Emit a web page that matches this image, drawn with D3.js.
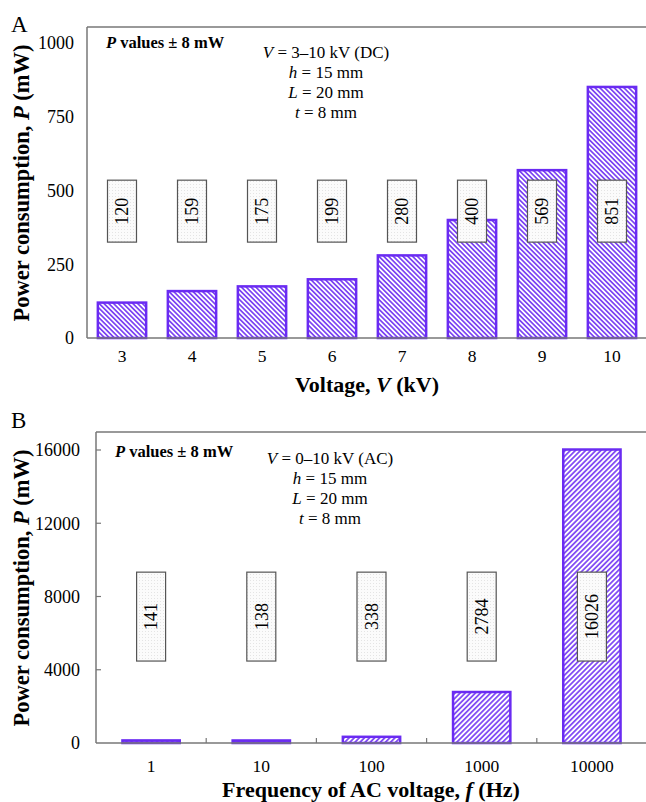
<html>
<head>
<script src="https://d3js.org/d3.v7.min.js"></script>
<style>
  body { margin: 0; background: #fff; }
  svg text { font-family: "Liberation Serif", "Times New Roman", serif; }
</style>
</head>
<body>
<div id="chart"></div>
<script>
// panel A: DC voltage
const voltageKV = ["3", "4", "5", "6", "7", "8", "9", "10"];
const powerDC = [120, 159, 175, 199, 280, 400, 569, 851];
const ticksDC = [0, 250, 500, 750, 1000];

// panel B: AC frequency
const frequencyHz = ["1", "10", "100", "1000", "10000"];
const powerAC = [141, 138, 338, 2784, 16026];
const ticksAC = [0, 4000, 8000, 12000, 16000];

const barColor = "#6a2bf2";

const svg = d3.select("#chart").append("svg")
  .attr("width", 646).attr("height", 802)
  .attr("font-family", "Liberation Serif, Times New Roman, serif");

const defs = svg.append("defs");

function hatch(id, angle, size) {
  const p = defs.append("pattern")
    .attr("id", id)
    .attr("patternUnits", "userSpaceOnUse")
    .attr("width", size).attr("height", size)
    .attr("patternTransform", "rotate(" + angle + ")");
  p.append("rect").attr("width", size).attr("height", size).attr("fill", "#fff");
  p.append("line")
    .attr("x1", size / 2).attr("y1", 0).attr("x2", size / 2).attr("y2", size)
    .attr("stroke", barColor).attr("stroke-width", 1.5);
}
hatch("hatchA", -45, 3.4);
hatch("hatchB", 45, 3.6);

// dotted fill for the value boxes
const dots = defs.append("pattern")
  .attr("id", "dots").attr("patternUnits", "userSpaceOnUse")
  .attr("width", 3).attr("height", 3);
dots.append("rect").attr("width", 3).attr("height", 3).attr("fill", "#fbfbfb");
dots.append("rect").attr("x", 1).attr("y", 1).attr("width", 1).attr("height", 1).attr("fill", "#e4e4e4");

function drawPanel(o) {
  const g = svg.append("g");

  const x = d3.scaleBand()
    .domain(o.cats)
    .range([o.left, 647])
    .paddingInner(o.pad).paddingOuter(o.pad / 2);

  const y = d3.scaleLinear()
    .domain([0, o.ticks[o.ticks.length - 1]])
    .range([o.bottom, o.top]);

  // frame: top and left lines
  g.append("line")
    .attr("x1", o.left).attr("x2", 646)
    .attr("y1", o.frameTop).attr("y2", o.frameTop)
    .attr("stroke", "#777").attr("stroke-width", 1.5);
  g.append("line")
    .attr("x1", o.left).attr("x2", o.left)
    .attr("y1", o.frameTop).attr("y2", o.bottom)
    .attr("stroke", "#777").attr("stroke-width", 1.5);

  // bars
  g.selectAll("rect.bar")
    .data(o.values)
    .enter().append("rect")
    .attr("class", "bar")
    .attr("x", (d, i) => x(o.cats[i]))
    .attr("y", d => y(d))
    .attr("width", x.bandwidth())
    .attr("height", d => o.bottom - y(d))
    .attr("fill", "url(#" + o.hatch + ")")
    .attr("stroke", barColor)
    .attr("stroke-width", 2.5);

  // x axis line
  g.append("line")
    .attr("x1", o.left).attr("x2", 646)
    .attr("y1", o.bottom).attr("y2", o.bottom)
    .attr("stroke", "#777").attr("stroke-width", 1.5);

  if (o.innerTicks) {
    g.selectAll("line.yt")
      .data(o.ticks.slice(1))
      .enter().append("line")
      .attr("x1", o.left).attr("x2", o.left + 5)
      .attr("y1", d => y(d)).attr("y2", d => y(d))
      .attr("stroke", "#777").attr("stroke-width", 1.2);
    g.selectAll("line.xt")
      .data(o.cats.slice(1))
      .enter().append("line")
      .attr("x1", d => x(d) - x.step() * x.paddingInner() / 2)
      .attr("x2", d => x(d) - x.step() * x.paddingInner() / 2)
      .attr("y1", o.bottom).attr("y2", o.bottom - 5)
      .attr("stroke", "#777").attr("stroke-width", 1.2);
  }

  // y tick labels
  g.selectAll("text.yl")
    .data(o.ticks)
    .enter().append("text")
    .attr("x", o.left - o.yLabelGap)
    .attr("y", d => y(d))
    .attr("dy", "0.35em")
    .attr("text-anchor", "end")
    .attr("font-size", 18)
    .text(d => d);

  // x tick labels
  g.selectAll("text.xl")
    .data(o.cats)
    .enter().append("text")
    .attr("x", d => x(d) + x.bandwidth() / 2)
    .attr("y", o.bottom + o.xLabelDy)
    .attr("text-anchor", "middle")
    .attr("font-size", 17.5)
    .text(d => d);

  // value boxes
  const boxW = 29;
  const boxes = g.selectAll("g.box")
    .data(o.values)
    .enter().append("g")
    .attr("class", "box");
  boxes.append("rect")
    .attr("x", (d, i) => x(o.cats[i]) + x.bandwidth() / 2 - boxW / 2)
    .attr("y", y(o.boxRange[1]))
    .attr("width", boxW)
    .attr("height", y(o.boxRange[0]) - y(o.boxRange[1]))
    .attr("fill", "url(#dots)")
    .attr("stroke", "#555").attr("stroke-width", 1.2);
  boxes.append("text")
    .attr("transform", (d, i) => "translate(" + (x(o.cats[i]) + x.bandwidth() / 2) + "," +
      y((o.boxRange[0] + o.boxRange[1]) / 2) + ") rotate(-90)")
    .attr("text-anchor", "middle")
    .attr("dy", "0.35em")
    .attr("font-size", 18)
    .text(d => d);

  // note
  const note = g.append("text")
    .attr("x", o.noteX).attr("y", o.noteY)
    .attr("font-size", 16.5).attr("font-weight", "bold");
  note.append("tspan").attr("font-style", "italic").text("P");
  note.append("tspan").text(" values \u00b1 8 mW");

  // parameters block
  const params = [
    ["V", " = " + o.vText],
    ["h", " = 15 mm"],
    ["L", " = 20 mm"],
    ["t", " = 8 mm"]
  ];
  params.forEach((p, i) => {
    const t = g.append("text")
      .attr("x", o.paramX).attr("y", o.paramY + i * 20)
      .attr("text-anchor", "middle")
      .attr("font-size", 17);
    t.append("tspan").attr("font-style", "italic").text(p[0]);
    t.append("tspan").text(p[1]);
  });

  // axis titles
  const xt = g.append("text")
    .attr("x", o.xTitleX).attr("y", o.xTitleY)
    .attr("text-anchor", "middle")
    .attr("font-size", 22).attr("font-weight", "bold");
  xt.append("tspan").text(o.xTitle[0]);
  xt.append("tspan").attr("font-style", "italic").text(o.xTitle[1]);
  xt.append("tspan").text(o.xTitle[2]);

  const yt = g.append("text")
    .attr("transform", "translate(" + o.yTitleX + "," + o.yTitleY + ") rotate(-90)")
    .attr("text-anchor", "middle")
    .attr("font-size", 22.5).attr("font-weight", "bold");
  yt.append("tspan").text("Power consumption, ");
  yt.append("tspan").attr("font-style", "italic").text("P");
  yt.append("tspan").text(" (mW)");

  g.append("text")
    .attr("x", 11).attr("y", o.letterY)
    .attr("font-size", 23)
    .text(o.letter);
}

drawPanel({
  cats: voltageKV, values: powerDC, ticks: ticksDC,
  left: 87, top: 43, bottom: 338, frameTop: 27, pad: 0.31,
  hatch: "hatchA", innerTicks: false, yLabelGap: 13, xLabelDy: 24,
  boxRange: [325, 535],
  noteX: 106, noteY: 48,
  paramX: 326, paramY: 58, vText: "3\u201310 kV (DC)",
  xTitle: ["Voltage, ", "V", " (kV)"], xTitleX: 367, xTitleY: 392,
  yTitleX: 29, yTitleY: 183,
  letter: "A", letterY: 32
});

drawPanel({
  cats: frequencyHz, values: powerAC, ticks: ticksAC,
  left: 96, top: 450, bottom: 743, frameTop: 432, pad: 0.48,
  hatch: "hatchB", innerTicks: true, yLabelGap: 16, xLabelDy: 29,
  boxRange: [4475, 9330],
  noteX: 115, noteY: 457,
  paramX: 330, paramY: 464, vText: "0\u201310 kV (AC)",
  xTitle: ["Frequency of AC voltage, ", "f", " (Hz)"], xTitleX: 371, xTitleY: 797,
  yTitleX: 29, yTitleY: 588,
  letter: "B", letterY: 428
});
</script>
</body>
</html>
